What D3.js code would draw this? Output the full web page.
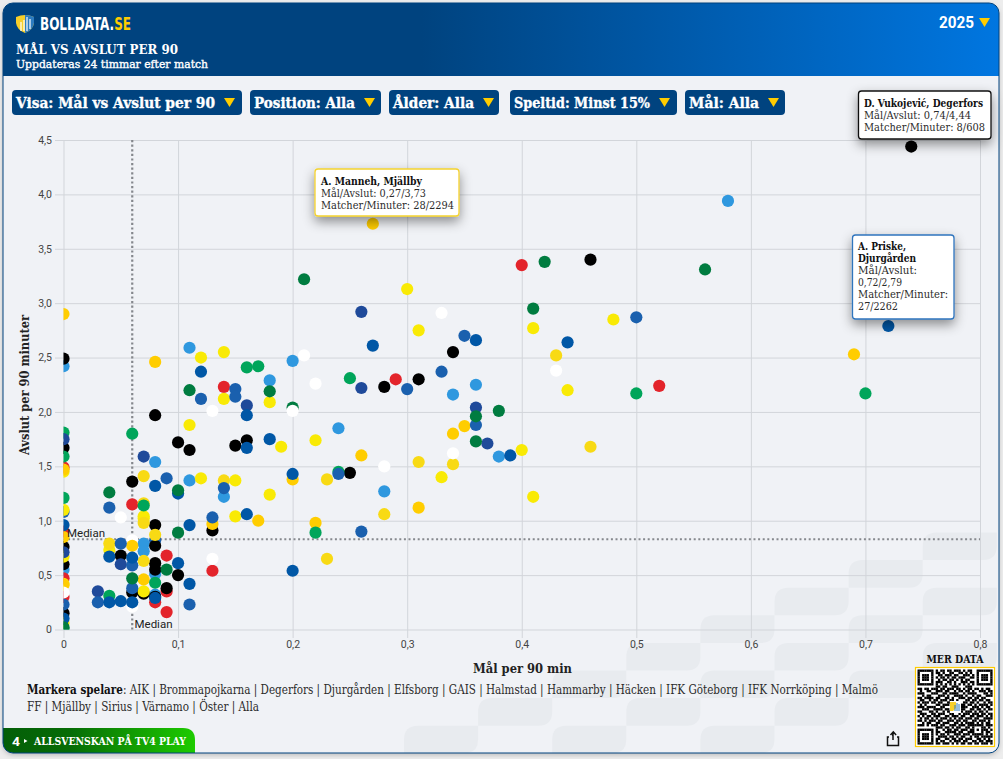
<!DOCTYPE html>
<html lang="sv">
<head>
<meta charset="utf-8">
<title>Mål vs Avslut per 90</title>
<script src="https://cdn.jsdelivr.net/npm/d3@7/dist/d3.min.js"></script>
<style>
html,body{margin:0;padding:0;background:#ededed;overflow:hidden}
svg{display:block}
text{font-family:"DejaVu Serif Condensed","DejaVu Serif",serif}
.tick text,.sans{font-family:Roboto,sans-serif}
</style>
</head>
<body>
<svg id="c" width="1003" height="759"></svg>
<script>
// Tick labels
const xTicks = [0,0.1,0.2,0.3,0.4,0.5,0.6,0.7,0.8];
const yTicks = [0,0.5,1,1.5,2,2.5,3,3.5,4,4.5];
const medianX = 0.06, medianY = 0.83;

// Players as [mål per 90, avslut per 90], one list per colour group, drawn in this order
const whiteLow = [[0.06,0.21],[0.06,0.82]];
const malmo = [[0,2.42],[0,0.55],[0.11,2.59],[0.18,2.29],[0.2,2.47],[0.08,1.54],[0.11,1.37],[0.14,1.22],[0.07,0.79],[0.07,0.72],[0.08,0.51],[0.08,0.32],[0.24,1.85],[0.28,1.27],[0.34,2.16],[0.36,2.25],[0.38,1.59],[0.58,3.94]];
const siriusLow = [[0.08,0.82],[0,1.08]];
const aik = [[0.07,0.33],[0.08,0.3],[0.08,0.77],[0.13,0.91],[0.06,0.34],[0.05,0.68],[0,0.6]];
const red = [[0,1.49],[0,0.9],[0,0.47],[0,0.3],[0.06,1.15],[0.09,0.68],[0.13,0.54],[0.09,0.35],[0.08,0.25],[0.09,0.16],[0.14,2.23],[0.29,2.3],[0.4,3.35],[0.52,2.24]];
const degerfors = [[0,2.49],[0,1.67],[0,0.76],[0,0.15],[0.06,1.36],[0.08,1.97],[0.08,0.96],[0.08,0.61],[0.08,0.55],[0.09,0.38],[0.1,1.72],[0.1,0.5],[0.11,1.65],[0.15,1.69],[0.16,1.74],[0.25,1.44],[0.28,2.23],[0.31,2.3],[0.34,2.55],[0.46,3.4],[0.74,4.44]];
const yellow = [[0,1.45],[0,1.1],[0,0.67],[0,0.42],[0,0.06],[0.04,0.73],[0.07,1.04],[0.07,1.02],[0.07,0.35],[0.11,1.88],[0.12,1.39],[0.12,2.5],[0.14,2.55],[0.14,2.12],[0.15,1.37],[0.15,1.04],[0.18,2.09],[0.18,1.24],[0.19,1.68],[0.22,1.74],[0.3,3.13],[0.31,2.75],[0.33,1.4],[0.4,1.65],[0.41,2.77],[0.41,1.22],[0.44,2.2],[0.48,2.85]];
const gold = [[0.04,0.79],[0.07,1.41],[0.07,1.16],[0.07,0.98],[0.07,0.63],[0.08,0.87],[0.14,1.37],[0.23,1.38],[0.23,0.65],[0.28,1.06],[0.31,1.54],[0.34,1.52],[0.43,2.52],[0.46,1.68]];
const amber = [[0,2.9],[0,1.47],[0,0.85],[0,0.41],[0.06,0.77],[0.07,0.46],[0.08,2.46],[0.13,0.97],[0.17,1.0],[0.2,1.38],[0.22,0.98],[0.26,1.6],[0.27,3.73],[0.31,1.12],[0.34,1.8],[0.35,1.87],[0.69,2.53]];
const green = [[0,1.81],[0,1.59],[0,1.21],[0,0],[0.04,0.31],[0.06,1.8],[0.07,1.14],[0.08,0.43],[0.16,2.41],[0.17,2.42],[0.22,0.89],[0.24,1.45],[0.25,2.31],[0.5,2.17],[0.7,2.17]];
const navy = [[0,1.75],[0,0.71],[0.03,0.35],[0.05,0.6],[0.07,1.59],[0.16,2.06],[0.26,2.92],[0.26,2.22],[0.36,2.04],[0.37,1.71]];
const sirius = [[0,0.23],[0.03,0.25],[0.04,1.12],[0.05,0.79],[0.06,0.59],[0.06,0.38],[0.09,1.39],[0.11,0.23],[0.12,2.12],[0.13,1.03],[0.14,1.3],[0.15,2.21],[0.15,2.14],[0.24,1.43],[0.26,0.9],[0.3,2.21],[0.33,2.37],[0.35,2.7],[0.36,1.88],[0.5,2.87]];
const djurgarden = [[0,0.96],[0,0.1],[0.04,0.67],[0.04,0.25],[0.05,0.26],[0.06,0.66],[0.06,0.25],[0.08,1.32],[0.08,0.29],[0.1,1.25],[0.1,0.61],[0.11,0.96],[0.11,0.42],[0.12,2.37],[0.16,1.97],[0.16,1.67],[0.16,1.06],[0.18,1.75],[0.2,1.43],[0.2,0.54],[0.27,2.61],[0.36,2.66],[0.39,1.6],[0.44,2.64],[0.72,2.79]];
const gais = [[0,0.02],[0.04,1.26],[0.06,0.47],[0.09,0.55],[0.1,1.28],[0.1,0.89],[0.11,2.2],[0.18,2.19],[0.2,2.04],[0.21,3.22],[0.36,1.96],[0.36,1.73],[0.38,2.01],[0.41,2.95],[0.42,3.38],[0.56,3.31]];
const whiteTop = [[0,0.34],[0.05,1.03],[0.13,2.01],[0.13,0.65],[0.2,2.01],[0.21,2.52],[0.22,2.26],[0.28,1.5],[0.33,2.91],[0.34,1.62],[0.43,2.38]];

const groups = [
  [whiteLow,"#ffffff"],[malmo,"#2f98df"],[siriusLow,"#1a60ae"],[aik,"#000000"],[red,"#e3242b"],[degerfors,"#000000"],
  [yellow,"#f9ea05"],[gold,"#f8da14"],[amber,"#ffcd00"],[green,"#00a55a"],[navy,"#1f4a9a"],
  [sirius,"#1a60ae"],[djurgarden,"#0057a6"],[gais,"#007c40"],[whiteTop,"#ffffff"]
];

// Interface texts
const filters = [
  ["Visa: Mål vs Avslut per 90",12,242,16,215],
  ["Position: Alla",250,381,254,355],
  ["Ålder: Alla",389,499,393,474],
  ["Speltid: Minst 15%",510,677,514,650],
  ["Mål: Alla",685,785,689,759]
];
const tips = [
  {box:[315,169,144,47],stroke:"#f4d22f",x:321,lines:[["A. Manneh, Mjällby",185,101,1],["Mål/Avslut: 0,27/3,73",197,105],["Matcher/Minuter: 28/2294",209,133]]},
  {box:[858.5,91,132.5,48],stroke:"#111",x:864,lines:[["D. Vukojević, Degerfors",107,119,1],["Mål/Avslut: 0,74/4,44",119,107],["Matcher/Minuter: 8/608",131,121]]},
  {box:[852.5,235,101.5,84],stroke:"#2f74bd",x:858,lines:[["A. Priske,",250,48,1],["Djurgården",262,58,1],["Mål/Avslut:",274,59],["0,72/2,79",286,44],["Matcher/Minuter:",298,90],["27/2262",310,40]]}
];
// Background tiles [column,row]
const tiles = [[0,0],[2,0],[4,0],[1,1],[3,1],[5,1],[2,2],[4,2],[6,2],[3,3],[5,3],[7,3],[4,4],[6,4],[5,5],[7,5],[6,6],[7,7]];
const qr = [
"111111101011011011101011001111111",
"100000101101001100110101001000001",
"101110100110111011001110101011101",
"101110101011010110111001101011101",
"101110100101101101010110001011101",
"100000101110011010011101101000001",
"111111101010101010101010101111111",
"000000001101100111000111000000000",
"110110111011011101101011011010110",
"010011001110110010110110100111011",
"111000111001101111001011110001101",
"001011000111010011110100101100111",
"110111101100110100111011011011000",
"011001011011101101000110110110110",
"101110110110011011101101101001011",
"010100001101110001111011010111101",
"111011110011000111111100111010110",
"001110011110110011111001101101011",
"110001101001011111110111010110100",
"011100110111001100101110111011011",
"101011011100110111011001101110101",
"010110101011101010110111011001111",
"110101110110011101101100110111010",
"001011001101110011010111101010110",
"111010111011001110111011111110111",
"000000001110110101100110100011010",
"111111101001011011011101101011101",
"100000101100111110110011100010110",
"101110101011010011101110111110101",
"101110100111101101011001011011111",
"101110101100110110110111001101010",
"100000101011001011101100110110111",
"111111101101110101011011011011101"
];

const svg = d3.select("#c");
const defs = svg.append("defs");
const sans = "Roboto,sans-serif";
const narrow = "'DejaVu Sans Condensed','DejaVu Sans',sans-serif";

function grad(id, stops){
  const g = defs.append("linearGradient").attr("id",id);
  stops.forEach(s=>g.append("stop").attr("offset",s[0]).attr("stop-color",s[1]));
}
grad("hdr",[["0%","#00437f"],["42%","#00437f"],["100%","#0076e0"]]);
grad("tv",[["0%","#045e08"],["35%","#066c06"],["100%","#1ecb00"]]);
const fl = defs.append("filter").attr("id","sh").attr("x","-30%").attr("y","-30%").attr("width","160%").attr("height","170%");
fl.append("feDropShadow").attr("dx",0).attr("dy",5).attr("stdDeviation",6).attr("flood-color","#000").attr("flood-opacity",0.42);
const fc = defs.append("filter").attr("id","card").attr("x","-2%").attr("y","-2%").attr("width","104%").attr("height","104%");
fc.append("feDropShadow").attr("dx",0).attr("dy",2).attr("stdDeviation",2.5).attr("flood-color","#000").attr("flood-opacity",0.22);
defs.append("clipPath").attr("id","cardClip").append("rect").attr("x",3).attr("y",3).attr("width",996).attr("height",750).attr("rx",10);
defs.append("clipPath").attr("id","plot").append("rect").attr("x",63.5).attr("y",120).attr("width",925).attr("height",509.5);

function txt(g,x,y,s,w,o={}){
  const t = g.append("text").attr("x",x).attr("y",y).text(s)
    .attr("font-size",o.size||11).attr("fill",o.fill||"#222")
    .attr("font-weight",o.bold?700:400);
  if(o.font) t.style("font-family",o.font);
  if(o.anchor) t.attr("text-anchor",o.anchor);
  if(w) t.attr("textLength",w).attr("lengthAdjust","spacingAndGlyphs");
  return t;
}

// Card
svg.append("rect").attr("x",3).attr("y",3).attr("width",996).attr("height",750).attr("rx",10).attr("fill","#f0f2f6").attr("filter","url(#card)");
const card = svg.append("g").attr("clip-path","url(#cardClip)");

// Background tiles
const cw=74.1, rh=27.6, r=14;
card.append("g").selectAll("path").data(tiles).join("path")
  .attr("fill","#e8ebef")
  .attr("d",d=>{
    const x=404+d[0]*cw, y=725.7-d[1]*rh;
    const p=d3.path();
    p.moveTo(x,y+rh); p.lineTo(x,y+r); p.quadraticCurveTo(x,y,x+r,y);
    p.lineTo(x+cw,y); p.lineTo(x+cw,y+rh-r); p.quadraticCurveTo(x+cw,y+rh,x+cw-r,y+rh); p.closePath();
    return p.toString();
  });

// Header
card.append("rect").attr("x",3).attr("y",3).attr("width",996).attr("height",73).attr("fill","url(#hdr)");
const head = svg.append("g");
// Shield logo
head.append("path").attr("d","M16 17 Q25 13 34 17 L34 23 Q33 30 25 33 Q17 30 16 23Z").attr("fill","#f7cf2a");
head.append("path").attr("d","M25 15 Q30 15 34 17 L34 23 Q33 30 25 33Z").attr("fill","#2d7cc0");
head.append("path").attr("d","M21 31V22M24 31V20M27 31V17M30 29V19").attr("stroke","#fff").attr("stroke-width",1.2);
const brand = txt(head,40,30,"",91,{size:18.5,bold:1,fill:"#fff",font:narrow});
brand.append("tspan").text("BOLLDATA.");
brand.append("tspan").attr("fill","#ffcc00").text("SE");
txt(head,16,54,"MÅL VS AVSLUT PER 90",162,{size:13,bold:1,fill:"#fff"});
txt(head,16,68,"Uppdateras 24 timmar efter match",192,{size:11.5,fill:"#fff"}).style("stroke","#fff").style("stroke-width",0.35);
txt(head,939,28,"2025",35,{size:16,bold:1,fill:"#fff",font:sans});
const tri=(g,x,y,w,h)=>g.append("path").attr("d",`M${x} ${y}h${w}l${-w/2} ${h}z`).attr("fill","#ffcc00");
tri(head,979,18,11,9);

// Filters
const fg = svg.append("g").selectAll("g").data(filters).join("g");
fg.append("rect").attr("x",d=>d[1]).attr("y",90).attr("width",d=>d[2]-d[1]).attr("height",25).attr("rx",4).attr("fill","#00437f");
fg.each(function(d){
  const g=d3.select(this);
  txt(g,d[3],107.5,d[0],d[4]-d[3],{size:14.5,bold:1,fill:"#fff"}).style("stroke","#fff").style("stroke-width",0.3);
  tri(g,d[4]+9,98,11,9);
});

// Scales and axes
const x = d3.scaleLinear().domain([0,0.8]).range([63.5,980]);
const y = d3.scaleLinear().domain([0,4.5]).range([629.5,140]);
const fmt = d=>d===0?"0":d3.format(".1f")(d).replace(".",",");
const ax = svg.append("g").attr("transform","translate(0,140)").call(
  d3.axisBottom(x).tickValues(xTicks).tickFormat(fmt).tickSize(498).tickPadding(7));
const ay = svg.append("g").attr("transform","translate(980,0)").call(
  d3.axisLeft(y).tickValues(yTicks).tickFormat(fmt).tickSize(925).tickPadding(3));
[ax,ay].forEach(a=>{
  a.select(".domain").remove();
  a.selectAll("line").attr("stroke","#d2d5da").attr("stroke-width",1);
  a.selectAll("text").attr("font-size",10.5).attr("fill","#444").style("font-family",sans);
});
ax.selectAll("text").attr("dy","0.3em");

// Medians
const med = svg.append("g").attr("fill","none").attr("stroke","#85888d");
med.append("line").attr("x1",x(medianX)).attr("x2",x(medianX)).attr("y1",y(4.5)).attr("y2",y(0)).attr("stroke-width",2.2).attr("stroke-dasharray","2.2 2.4");
med.append("line").attr("x1",x(0)).attr("x2",x(0.8)).attr("y1",y(medianY)).attr("y2",y(medianY)).attr("stroke-width",2).attr("stroke-dasharray","2 2.6");

// Points
const pts = svg.append("g").attr("clip-path","url(#plot)");
groups.forEach(([arr,col])=>{
  pts.append("g").selectAll("circle").data(arr).join("circle")
    .attr("cx",d=>x(d[0])).attr("cy",d=>y(d[1])).attr("r",6.1).attr("fill",col);
});

// Median labels
txt(svg,67,537,"Median",null,{size:11.5,fill:"#222",font:sans});
txt(svg,134.5,628,"Median",null,{size:11.5,fill:"#222",font:sans});

// Axis titles
txt(svg,522.5,672.5,"Mål per 90 min",99,{size:13.5,bold:1,anchor:"middle"});
txt(svg,0,0,"Avslut per 90 minuter",140,{size:13.5,bold:1,anchor:"middle"}).attr("transform","translate(29,385) rotate(-90)");

// Legend
const l1 = txt(svg,27,694,"",null,{size:12,fill:"#2b2b2b"}).attr("textLength",851).attr("lengthAdjust","spacingAndGlyphs");
l1.append("tspan").attr("font-weight",700).attr("fill","#111").text("Markera spelare");
l1.append("tspan").text(": AIK | Brommapojkarna | Degerfors | Djurgården | Elfsborg | GAIS | Halmstad | Hammarby | Häcken | IFK Göteborg | IFK Norrköping | Malmö");
txt(svg,27,711,"FF | Mjällby | Sirius | Värnamo | Öster | Alla",232,{size:12,fill:"#2b2b2b"});

// TV4 badge
card.append("path").attr("d","M3 728H183Q195 728 195 740V753H3Z").attr("fill","url(#tv)");
txt(svg,12,746,"4",8,{size:13,bold:1,fill:"#fff",font:sans});
svg.append("path").attr("d","M24 739l3.5 2l-3.5 2z").attr("fill","#fff");
txt(svg,34,745,"ALLSVENSKAN PÅ TV4 PLAY",152,{size:10.5,bold:1,fill:"#fff"});

// Share icon
svg.append("path").attr("d","M889 737h-1.5v8.5h11v-8.5H897M892.8 736V732.5M890.5 735l2.8-3.2 2.8 3.2M893 732v8").attr("fill","none").attr("stroke","#111").attr("stroke-width",1.5);

// QR
txt(svg,955,663,"MER DATA",57,{size:11,bold:1,fill:"#111",anchor:"middle"});
svg.append("rect").attr("x",915.5).attr("y",667.5).attr("width",79).attr("height",79).attr("fill","#fff").attr("stroke","#ffcc00").attr("stroke-width",1.2);
const qs = d3.scaleBand().domain(d3.range(33)).range([917.5,992.5]);
const qy = d3.scaleBand().domain(d3.range(33)).range([669.5,744.5]);
const qg = svg.append("g");
qr.forEach((row,i)=>{
  qg.append("g").selectAll("rect").data(row.split("").map((c,j)=>[c,j]).filter(d=>d[0]==="1")).join("rect")
    .attr("x",d=>qs(d[1])).attr("y",qy(i)).attr("width",qs.bandwidth()+0.1).attr("height",qy.bandwidth()+0.1).attr("fill","#000");
});
svg.append("rect").attr("x",950).attr("y",701).attr("width",11).attr("height",12).attr("fill","#fff");
svg.append("path").attr("d","M950 702h6v6l-3 3h-3z").attr("fill","#f7cf2a");
svg.append("path").attr("d","M955 711V705M957 711V703M959 711V704").attr("stroke","#2d7cc0").attr("stroke-width",1);

// Tooltips
tips.forEach(t=>{
  const g=svg.append("g");
  g.append("rect").attr("x",t.box[0]).attr("y",t.box[1]).attr("width",t.box[2]).attr("height",t.box[3]).attr("rx",3)
    .attr("fill","#fff").attr("stroke",t.stroke).attr("stroke-width",1.3).attr("filter","url(#sh)");
  t.lines.forEach(l=>txt(g,t.x,l[1],l[0],l[2],{size:11,bold:l[3],fill:l[3]?"#111":"#2b2b2b"}));
});
// Card outline
svg.append("rect").attr("x",3).attr("y",3).attr("width",996).attr("height",750).attr("rx",10).attr("fill","none").attr("stroke","#00437f").attr("stroke-width",1);
</script>
</body>
</html>
